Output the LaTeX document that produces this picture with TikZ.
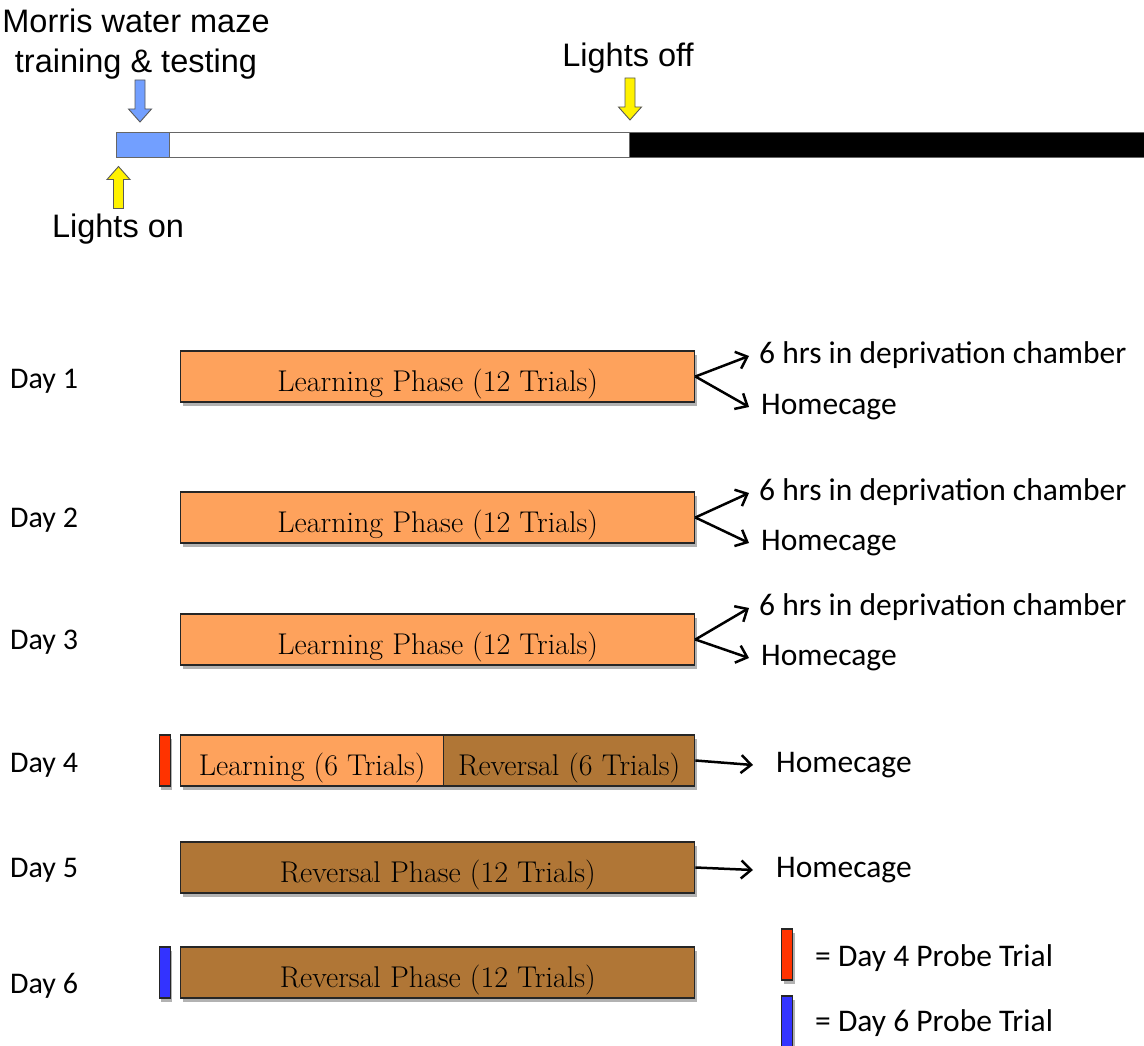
\documentclass[tikz,border=0pt]{standalone}
\usepackage{fontspec}
\newfontfamily\arialf{Liberation Sans}
\newfontfamily\calf{Carlito}
\usetikzlibrary{arrows.meta,shadows}
\definecolor{lorange}{HTML}{FEA25C}
\definecolor{brownc}{HTML}{B07636}
\definecolor{tlblue}{HTML}{729FFF}
\definecolor{probered}{HTML}{FF3300}
\definecolor{probeblue}{HTML}{3333FF}
\begin{document}
\begin{tikzpicture}[x=1pt,y=-1pt,
  phase/.style={draw=black!85, line width=1.4pt, minimum height=51pt, inner sep=0pt,
    text height=29pt, text depth=0pt,
    anchor=west, font=\fontsize{30}{32}\selectfont,
    drop shadow={shadow xshift=2pt, shadow yshift=-4pt, opacity=0.3, fill=black}},
  probe/.style={draw=black!85, line width=1.1pt, minimum height=51pt, minimum width=11pt,
    inner sep=0pt, anchor=west,
    drop shadow={shadow xshift=2pt, shadow yshift=-4pt, opacity=0.3, fill=black}},
  daylbl/.style={anchor=west, inner sep=0pt, font=\calf\fontsize{30}{32}\selectfont},
  outlbl/.style={anchor=west, inner sep=0pt, font=\calf\fontsize{31.5}{33}\selectfont},
  arlbl/.style={inner sep=0pt, align=center, font=\arialf\fontsize{32.5}{40}\selectfont},
  conn/.style={line width=2.5pt, -{Straight Barb[length=10pt,width=18pt,line width=2.5pt]}},
  tlseg/.style={draw=black!60, line width=0.9pt},
  pics/blockdown/.style={code={\draw[draw=black!65, line width=0.9pt, fill=#1]
    (-5,-21) -- (5,-21) -- (5,8) -- (11.5,8) -- (0,21) -- (-11.5,8) -- (-5,8) -- cycle;}},
  pics/blockup/.style={code={\draw[draw=black!65, line width=0.9pt, fill=#1]
    (-5,21) -- (5,21) -- (5,-8) -- (11.5,-8) -- (0,-21) -- (-11.5,-8) -- (-5,-8) -- cycle;}}
]
\useasboundingbox (0,0) rectangle (1144,1046);
\clip (0,0) rectangle (1144,1046);

% ---------- timeline ----------
\draw[tlseg, fill=tlblue] (116,132) rectangle (169,157);
\draw[tlseg, fill=white] (169,132) rectangle (629,157);
\draw[tlseg, fill=black] (629,132) rectangle (1150,157);

\node[arlbl] (mwm) at (136,44) {Morris water maze\\training \& testing};
\node[arlbl] (loff) at (628,58) {Lights off};
\node[arlbl] (lon) at (118,229) {Lights on};

\pic at (140,101) {blockdown=tlblue};
\pic at (630,99) {blockdown=yellow};
\pic at (118.5,187.5) {blockup=yellow};

% ---------- day labels ----------
\node[daylbl] (day1) at (10,381) {Day 1};
\node[daylbl] (day2) at (10,520) {Day 2};
\node[daylbl] (day3) at (10,642) {Day 3};
\node[daylbl] (day4) at (10,765) {Day 4};
\node[daylbl] (day5) at (10,870) {Day 5};
\node[daylbl] (day6) at (10,986) {Day 6};

% ---------- phase boxes ----------
\node[phase, fill=lorange, minimum width=514pt] (b1) at (180,376.5) {Learning Phase (12 Trials)};
\node[phase, fill=lorange, minimum width=514pt] (b2) at (180,517.5) {Learning Phase (12 Trials)};
\node[phase, fill=lorange, minimum width=514pt] (b3) at (180,639.5) {Learning Phase (12 Trials)};
\node[phase, fill=lorange, minimum width=263pt] (b4a) at (180,760.5) {Learning (6 Trials)};
\node[phase, fill=brownc, minimum width=251pt] (b4b) at (443,760.5) {Reversal (6 Trials)};
\node[phase, fill=brownc, minimum width=514pt] (b5) at (180,867.5) {Reversal Phase (12 Trials)};
\node[phase, fill=brownc, minimum width=514pt] (b6) at (180,972.5) {Reversal Phase (12 Trials)};

\node[probe, fill=probered] (p4) at (158.5,760.5) {};
\node[probe, fill=probeblue] (p6) at (158.5,972.5) {};

% ---------- outcomes ----------
\node[outlbl] (d1a) at (759,355) {6 hrs in deprivation chamber};
\node[outlbl] (d1b) at (761,407) {Homecage};
\node[outlbl] (d2a) at (759,492) {6 hrs in deprivation chamber};
\node[outlbl] (d2b) at (761,543) {Homecage};
\node[outlbl] (d3a) at (759,607) {6 hrs in deprivation chamber};
\node[outlbl] (d3b) at (761,658) {Homecage};
\node[outlbl] (d4) at (776,765) {Homecage};
\node[outlbl] (d5) at (776,870) {Homecage};

\draw[conn] (b1.east) -- ([xshift=-10pt,yshift=-1pt]d1a.west);
\draw[conn] (b1.east) -- ([xshift=-12pt]d1b.west);
\draw[conn] (b2.east) -- ([xshift=-10pt,yshift=-1pt]d2a.west);
\draw[conn] (b2.east) -- ([xshift=-12pt]d2b.west);
\draw[conn] (b3.east) -- ([xshift=-10pt,yshift=-1pt]d3a.west);
\draw[conn] (b3.east) -- ([xshift=-12pt]d3b.west);
\draw[conn] (b4b.east) -- ([xshift=-23pt]d4.west);
\draw[conn] (b5.east) -- ([xshift=-23pt]d5.west);

% ---------- legend ----------
\node[probe, fill=probered] (lg4) at (781,954.5) {};
\node[probe, fill=probeblue, minimum height=56pt] (lg6) at (781,1024) {};
\node[outlbl] (lt4) at (815,958) {= Day 4 Probe Trial};
\node[outlbl] (lt6) at (815,1023) {= Day 6 Probe Trial};
\end{tikzpicture}
\end{document}
